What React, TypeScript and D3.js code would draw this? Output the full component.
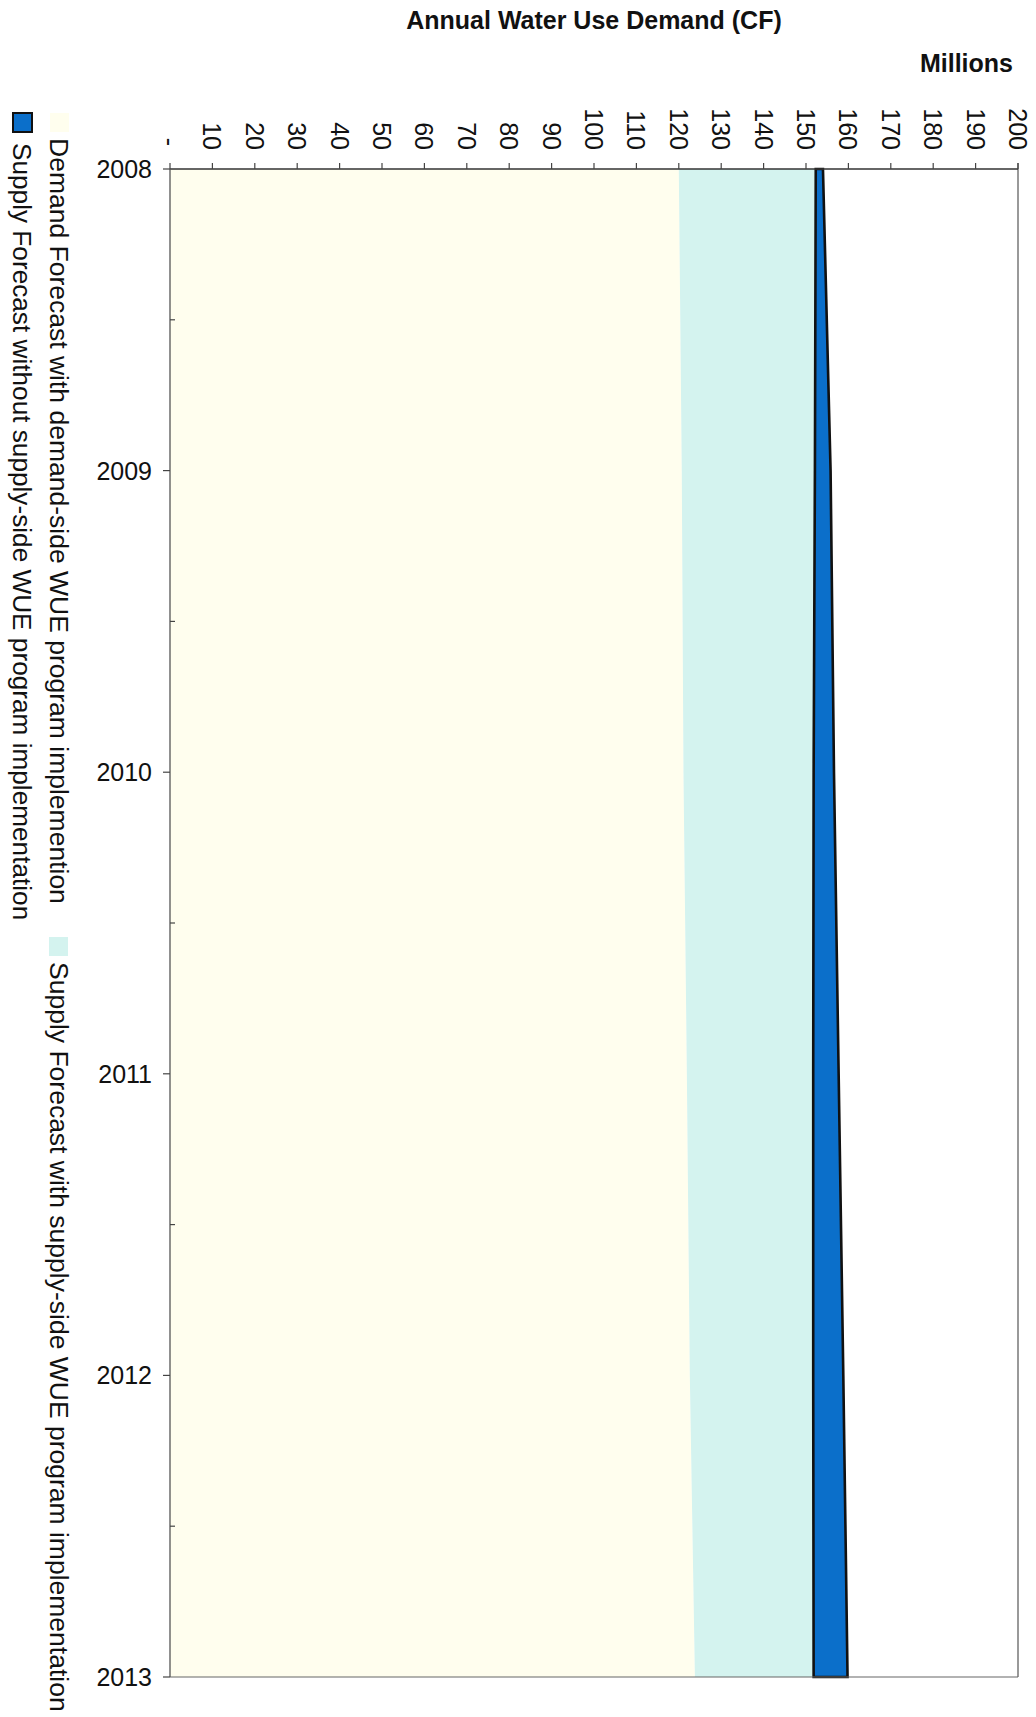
import React from "react";
import * as d3 from "d3";

const years = [2008, 2009, 2010, 2011, 2012, 2013];
const seriesNames = [
  "Demand Forecast with demand-side WUE program implemention",
  "Supply Forecast with supply-side WUE program implementation",
  "Supply Forecast without supply-side WUE program implementation",
];
// stacked layer values (millions CF)
const demandWithWUE = [120.0, 120.7, 121.1, 121.9, 122.6, 123.8];
const supplyWithWUE = [32.3, 31.4, 30.7, 29.8, 29.1, 28.0];
const supplyWithoutWUE = [1.7, 3.7, 4.8, 6.0, 7.1, 8.0];
const valueTicks = [0, 10, 20, 30, 40, 50, 60, 70, 80, 90, 100, 110, 120, 130, 140, 150, 160, 170, 180, 190, 200];
const fills = ["#FFFEEE", "#D4F3EF", "#0B6FCA"];

const FONT = "'Liberation Sans', Arial, sans-serif";

export default function App() {
  const W = 1036;
  const H = 1717;
  const x = d3.scaleLinear().domain([0, 200]).range([170, 1018]);
  const y = d3.scaleLinear().domain([2008, 2013]).range([169, 1677]);

  const table = years.map((yr, i) => ({
    year: yr,
    a: demandWithWUE[i],
    b: supplyWithWUE[i],
    c: supplyWithoutWUE[i],
  }));
  const stack = d3.stack<any>().keys(["a", "b", "c"]);
  const layers = stack(table);
  const area = d3
    .area<any>()
    .y((d) => y(d.data.year))
    .x0((d) => x(d[0]))
    .x1((d) => x(d[1]));

  const halfYears = years.slice(0, -1).map((yr) => yr + 0.5);

  return (
    <svg
      width={W}
      height={H}
      style={{ position: "absolute", left: 0, top: 0, display: "block", background: "#fff" }}
      fontFamily={FONT}
    >
      <rect x={0} y={0} width={W} height={H} fill="#fff" />
      {/* plot areas */}
      {layers.map((layer, i) => (
        <path
          key={i}
          d={area(layer) || ""}
          fill={fills[i]}
          stroke={i === 2 ? "#111" : "none"}
          strokeWidth={i === 2 ? 2.6 : 0}
          strokeLinejoin="miter"
        />
      ))}
      {/* plot border */}
      <line x1={x(200)} x2={x(200)} y1={y(2008) - 6} y2={y(2013)} stroke="#555" strokeWidth={1.2} />
      <line x1={x(0)} x2={x(200)} y1={y(2013)} y2={y(2013)} stroke="#666" strokeWidth={1.2} />
      {/* value axis at top */}
      <line x1={x(0)} x2={x(200)} y1={y(2008)} y2={y(2008)} stroke="#333" strokeWidth={1.3} />
      {valueTicks.map((v) => (
        <g key={v}>
          <line x1={x(v)} x2={x(v)} y1={y(2008) - 6} y2={y(2008)} stroke="#444" strokeWidth={1.2} />
          <text
            transform={`translate(${x(v)},${v === 0 ? 146 : 150}) rotate(90)`}
            textAnchor="end"
            dominantBaseline="central"
            fontSize={25}
            fill="#111"
          >
            {v === 0 ? "-" : String(v)}
          </text>
        </g>
      ))}
      {/* year axis at left */}
      <line x1={x(0)} x2={x(0)} y1={y(2008)} y2={y(2013)} stroke="#555" strokeWidth={1.3} />
      {years.map((yr) => (
        <g key={yr}>
          <line x1={x(0) - 7} x2={x(0)} y1={y(yr)} y2={y(yr)} stroke="#444" strokeWidth={1.2} />
          <text x={152} y={y(yr)} textAnchor="end" dominantBaseline="central" fontSize={25} fill="#111">
            {yr}
          </text>
        </g>
      ))}
      {halfYears.map((yr) => (
        <line key={yr} x1={x(0)} x2={x(0) + 5} y1={y(yr)} y2={y(yr)} stroke="#444" strokeWidth={1.2} />
      ))}
      {/* titles */}
      <text x={594} y={29} textAnchor="middle" fontSize={25} fontWeight="bold" fill="#111">
        Annual Water Use Demand (CF)
      </text>
      <text x={1013} y={72} textAnchor="end" fontSize={25} fontWeight="bold" fill="#111">
        Millions
      </text>
      {/* legend (rotated) */}
      <rect x={50} y={113} width={19} height={19} fill={fills[0]} />
      <text transform={`translate(50,138) rotate(90)`} fontSize={26.5} fill="#111">
        {seriesNames[0]}
      </text>
      <rect x={49} y={937} width={19} height={19} fill={fills[1]} />
      <text transform={`translate(50,962) rotate(90)`} fontSize={26.5} fill="#111">
        {seriesNames[1]}
      </text>
      <rect x={13} y={113} width={19} height={19} fill={fills[2]} stroke="#111" strokeWidth={2} />
      <text transform={`translate(13,143) rotate(90)`} fontSize={26.2} fill="#111">
        {seriesNames[2]}
      </text>
    </svg>
  );
}
